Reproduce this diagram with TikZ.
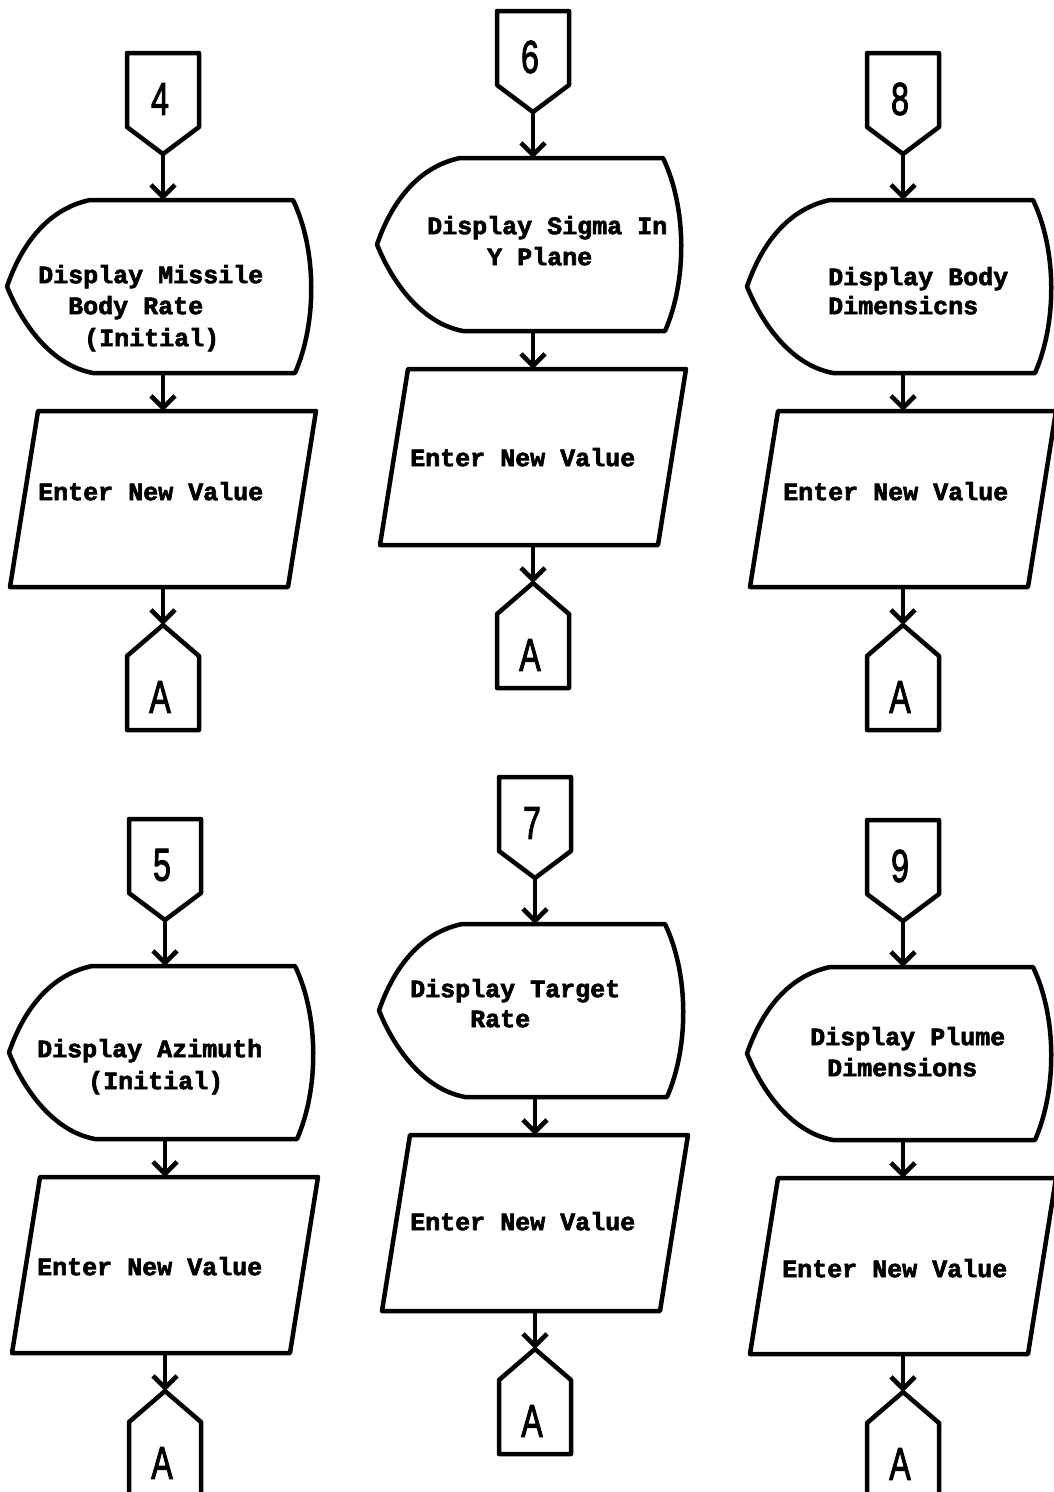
\documentclass[tikz,border=0pt]{standalone}
\usepackage{fontspec}
\usepackage{graphicx}
\usetikzlibrary{arrows.meta,calc}
\newfontfamily\txtfont{Liberation Mono}[BoldFeatures={FakeBold=2.5}]
\newfontfamily\digfont{Liberation Sans}[FakeBold=2.5]
\tikzset{
  outline/.style={line width=4.5pt, line join=round, black},
  arr/.style={line width=4.5pt, -{Straight Barb[length=12pt,width=24pt]}},
  box/.style 2 args={inner sep=0pt, outer sep=0pt, minimum width=#1, minimum height=#2},
  lbl/.style={inner sep=0pt, anchor=mid west, font=\txtfont\bfseries\fontsize{25}{30}\selectfont},
  dig/.style={inner sep=0pt, font=\digfont\fontsize{46}{46}\selectfont},
}
\newcommand\flowcol[4]{%
  \begin{scope}[shift={(#2,#3)}]
    \node[box={72pt}{101pt}] (#1c) at (163,103.5) {};
    \node[box={306pt}{173pt}] (#1d) at (160,286.5) {};
    \node[box={306pt}{176pt}] (#1p) at (163,499) {};
    \node[box={72pt}{105pt}] (#1a) at (163,677.5) {};
    \node[dig] (#1n) at (160,99) {\scalebox{0.7}[1]{#4}};
    \node[dig] (#1an) at (160,697) {\scalebox{0.7}[1]{A}};
  \end{scope}
  \draw[outline] (#1c.north west) -- (#1c.north east) -- ($(#1c.north east)+(0,74)$)
     -- (#1c.south) -- ($(#1c.north west)+(0,74)$) -- cycle;
  \draw[outline] ($(#1d.north west)+(83,0)$) -- ($(#1d.north east)+(-20,0)$)
     .. controls ($(#1d.north east)+(4,50)$) and ($(#1d.south east)+(4,-50)$) .. ($(#1d.south east)+(-18,0)$)
     -- ($(#1d.south west)+(86,0)$)
     .. controls ($(#1d.south west)+(43,-8)$) and ($(#1d.west)+(14,35)$) .. (#1d.west)
     .. controls ($(#1d.west)+(12,-35)$) and ($(#1d.north west)+(36,10)$) .. ($(#1d.north west)+(83,0)$) -- cycle;
  \draw[outline] ($(#1p.north west)+(28,0)$) -- (#1p.north east) -- ($(#1p.south east)+(-28,0)$)
     -- (#1p.south west) -- cycle;
  \draw[outline] (#1a.north) -- ($(#1a.south east)+(0,-74)$) -- (#1a.south east)
     -- (#1a.south west) -- ($(#1a.south west)+(0,-74)$) -- cycle;
  \draw[arr] (#1c.south) -- (#1c.south |- #1d.north);
  \draw[arr] (#1p.north |- #1d.south) -- (#1p.north);
  \draw[arr] (#1p.south) -- (#1a.north);
}
\begin{document}
\begin{tikzpicture}[x=1pt,y=-1pt]
  \fill[white] (0,0) rectangle (1054,1492);
  \useasboundingbox (0,0) rectangle (1054,1492);
  \flowcol{u1}{0}{0}{4}
  \flowcol{u2}{370}{-42}{6}
  \flowcol{u3}{740}{0}{8}
  \flowcol{l1}{2}{766}{5}
  \flowcol{l2}{372}{724}{7}
  \flowcol{l3}{740}{767}{9}
  % texts, top row
  \node[lbl] (t1) at (38,281) {Display Missile};
  \node[lbl] (t2) at (68,312) {Body Rate};
  \node[lbl] (t3) at (84,344) {(Initial)};
  \node[lbl] (t4) at (38,498) {Enter New Value};
  \node[lbl] (t5) at (427,232) {Display Sigma In};
  \node[lbl] (t6) at (487,263) {Y Plane};
  \node[lbl] (t7) at (410,464) {Enter New Value};
  \node[lbl] (t8) at (828,283) {Display Body};
  \node[lbl] (t9) at (828,312) {Dimensicns};
  \node[lbl] (t10) at (783,498) {Enter New Value};
  % texts, bottom row
  \node[lbl] (t11) at (37,1055) {Display Azimuth};
  \node[lbl] (t12) at (88,1087) {(Initial)};
  \node[lbl] (t13) at (37,1273) {Enter New Value};
  \node[lbl] (t14) at (410,995) {Display Target};
  \node[lbl] (t15) at (470,1025) {Rate};
  \node[lbl] (t16) at (410,1228) {Enter New Value};
  \node[lbl] (t17) at (810,1043) {Display Plume};
  \node[lbl] (t18) at (827,1074) {Dimensions};
  \node[lbl] (t19) at (782,1275) {Enter New Value};
\end{tikzpicture}
\end{document}
